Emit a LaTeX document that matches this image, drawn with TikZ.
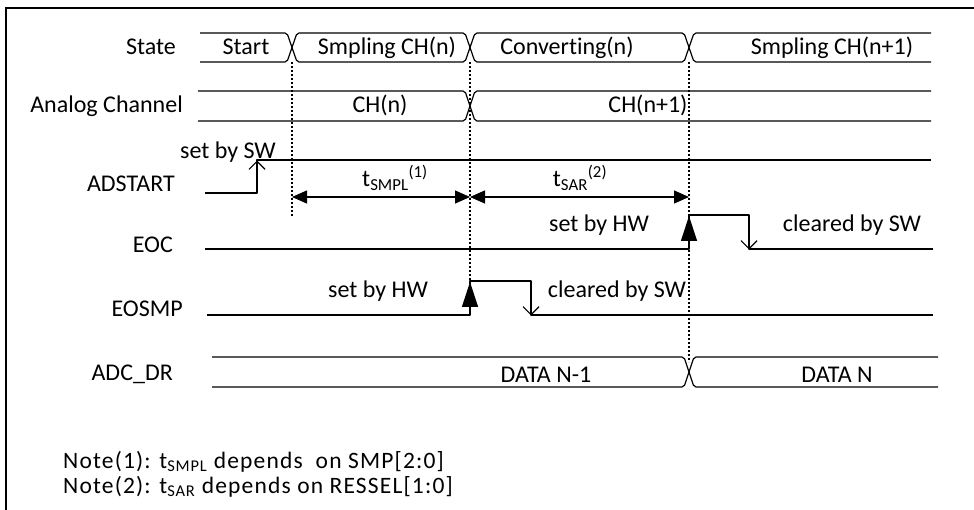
\documentclass[tikz,border=0pt]{standalone}
\usepackage{fontspec}
\setmainfont{Carlito}[Ligatures=NoCommon]
\newfontfamily\notefont{Carlito}[Ligatures=NoCommon, LetterSpace=5]
\usetikzlibrary{arrows.meta}

\begin{document}
\begin{tikzpicture}[x=1pt, y=-1pt,
  wave/.style={line width=1.2pt, line join=round},
  bus/.style={wave, rounded corners=2pt},
  marker/.style={line width=1.3pt, dash pattern=on 2pt off 2pt},
  lbl/.style={font=\fontsize{24}{27}\selectfont, inner sep=0pt},
  notelbl/.style={font=\notefont\fontsize{23.5}{26}\selectfont, inner sep=0pt},
  fillhead/.style={-{Triangle[length=25pt,width=16pt]}},
  openhead/.style={-{Straight Barb[length=8pt,width=16pt]}},
  dimline/.style={line width=1.2pt, {Triangle[length=15pt,width=13pt]}-{Triangle[length=15pt,width=13pt]}}]

\useasboundingbox (0,0) rectangle (974,510);

% outer frame (left and top edges)
\draw[line width=1.8pt] (6,510) -- (6,8) -- (974,8);

% ---------- State bus ----------
\draw[bus] (200,33) -- (287,33) -- (297,62) -- (465,62) -- (475,33) -- (684,33) -- (694,62) -- (931,62);
\draw[bus] (200,62) -- (287,62) -- (297,33) -- (465,33) -- (475,62) -- (684,62) -- (694,33) -- (931,33);
\node[lbl, anchor=base east] (lState) at (176,55) {State};
\node[lbl, anchor=base] (sStart) at (246,55) {Start};
\node[lbl, anchor=base] (sSmp) at (387,55) {Smpling CH(n)};
\node[lbl, anchor=base] (sConv) at (567,55) {Converting(n)};
\node[lbl, anchor=base] (sSmp2) at (832,55) {Smpling CH(n+1)};

% ---------- Analog channel bus ----------
\draw[bus] (198,91) -- (465,91) -- (475,121) -- (931,121);
\draw[bus] (198,121) -- (465,121) -- (475,91) -- (931,91);
\node[lbl, anchor=base east] (lAnalog) at (183,113) {Analog Channel};
\node[lbl, anchor=base] (aCHn) at (380,113) {CH(n)};
\node[lbl, anchor=base] (aCHn1) at (648,113) {CH(n+1)};

% ---------- ADSTART ----------
\draw[wave] (205,193) -- (257,193) -- (257,160) -- (931,160);
\draw[wave, openhead] (257,175) -- (257,160.5);
\node[lbl, anchor=base] (setSW) at (228,159) {set by SW};
\node[lbl, anchor=base east] (lAD) at (175,192) {ADSTART};

% ---------- time markers ----------
\draw[marker] (292,62) -- (292,217);
\draw[marker] (470,62) -- (470,281);
\draw[marker] (689,62) -- (689,362);

\draw[dimline] (292,197) -- (470,197);
\draw[dimline] (470,197) -- (689,197);
\node[lbl, anchor=base] (tsmpl) at (395,187) {t\textsubscript{SMPL}\textsuperscript{(1)}};
\node[lbl, anchor=base] (tsar) at (580,187) {t\textsubscript{SAR}\textsuperscript{(2)}};

% ---------- EOC ----------
\draw[wave] (205,249) -- (689,249) -- (689,215) -- (749,215) -- (749,249) -- (933,249);
\draw[wave, fillhead] (689,248) -- (689,216);
\draw[wave, openhead] (749,232) -- (749,249.5);
\node[lbl, anchor=base] (eocSet) at (599,232) {set by HW};
\node[lbl, anchor=base] (eocClr) at (852,232) {cleared by SW};
\node[lbl, anchor=base east] (lEOC) at (173,253) {EOC};

% ---------- EOSMP ----------
\draw[wave] (207,315) -- (470,315) -- (470,281) -- (531,281) -- (531,315) -- (933,315);
\draw[wave, fillhead] (470,314) -- (470,282);
\draw[wave, openhead] (531,298) -- (531,315.5);
\node[lbl, anchor=base] (smpSet) at (378,298) {set by HW};
\node[lbl, anchor=base] (smpClr) at (617,298) {cleared by SW};
\node[lbl, anchor=base east] (lEOSMP) at (183,317) {EOSMP};

% ---------- ADC_DR bus ----------
\draw[bus] (212,357) -- (684,357) -- (694,387) -- (938,387);
\draw[bus] (212,387) -- (684,387) -- (694,357) -- (938,357);
\node[lbl, anchor=base east] (lDR) at (173,380) {ADC\_DR};
\node[lbl, anchor=base] (dN1) at (546,382) {DATA N-1};
\node[lbl, anchor=base] (dN) at (837,382) {DATA N};

% ---------- notes ----------
\node[notelbl, anchor=base west] (note1) at (63,468) {Note(1): t\textsubscript{SMPL} depends\ \ on SMP[2:0]};
\node[notelbl, anchor=base west] (note2) at (63,493) {Note(2): t\textsubscript{SAR} depends on RESSEL[1:0]};
\end{tikzpicture}
\end{document}
